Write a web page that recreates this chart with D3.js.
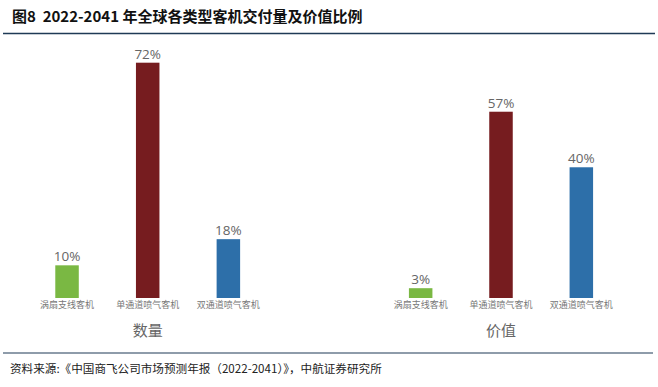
<!DOCTYPE html>
<html>
<head>
<meta charset="utf-8">
<script src="https://cdn.jsdelivr.net/npm/d3@7"></script>
<style>
  body { margin: 0; background: #fff; }
  svg { display: block; }
</style>
</head>
<body>
<div id="chart"></div>
<script>
// chart data
const categories = ["涡扇支线客机", "单通道喷气客机", "双通道喷气客机"];
const countShare = [10, 72, 18];   // 数量
const valueShare = [3, 57, 40];    // 价值
const panelTitles = ["数量", "价值"];
const barColors = ["#7ab843", "#761c1f", "#2d6fa9"];

const width = 658;
const height = 387;

const svg = d3.select("#chart").append("svg")
    .attr("width", width)
    .attr("height", height);

// title
svg.append("text")
    .attr("x", 12)
    .attr("y", 22)
    .style("white-space", "pre")
    .attr("font-family", "'Noto Sans CJK SC', sans-serif")
    .attr("font-weight", "bold")
    .attr("font-size", 15)
    .attr("fill", "#111")
    .text("图8  2022-2041 年全球各类型客机交付量及价值比例");

svg.append("line")
    .attr("x1", 3).attr("x2", 655)
    .attr("y1", 33.5).attr("y2", 33.5)
    .attr("stroke", "#1f3a56")
    .attr("stroke-width", 1.5);

// shared value scale for both panels
const y = d3.scaleLinear()
    .domain([0, 72])
    .range([298, 62.7]);

const barWidth = 23.5;

const panels = [
    { title: panelTitles[0], values: countShare, range: [26.7, 268.7] },
    { title: panelTitles[1], values: valueShare, range: [380.5, 621.5] }
];

panels.forEach(p => {
    const x = d3.scalePoint()
        .domain(categories)
        .range(p.range)
        .padding(0.5);

    const g = svg.append("g");
    const rows = categories.map((c, i) => ({ cat: c, v: p.values[i], color: barColors[i] }));

    g.selectAll("rect")
        .data(rows)
        .enter()
        .append("rect")
        .attr("x", d => x(d.cat) - barWidth / 2)
        .attr("y", d => y(d.v))
        .attr("width", barWidth)
        .attr("height", d => y(0) - y(d.v))
        .attr("fill", d => d.color);

    // value labels
    g.selectAll("text.val")
        .data(rows)
        .enter()
        .append("text")
        .attr("class", "val")
        .attr("x", d => x(d.cat))
        .attr("y", d => y(d.v) - 4)
        .attr("text-anchor", "middle")
        .attr("font-family", "'Open Sans', sans-serif")
        .attr("font-size", 13.5)
        .attr("fill", "#666")
        .text(d => d.v + "%");

    // category labels
    g.selectAll("text.cat")
        .data(rows)
        .enter()
        .append("text")
        .attr("class", "cat")
        .attr("x", d => x(d.cat))
        .attr("y", 308)
        .attr("text-anchor", "middle")
        .attr("font-family", "'Noto Sans CJK SC', sans-serif")
        .attr("font-size", 9)
        .attr("fill", "#777")
        .text(d => d.cat);

    g.append("text")
        .attr("x", (p.range[0] + p.range[1]) / 2)
        .attr("y", 336)
        .attr("text-anchor", "middle")
        .attr("font-family", "'Noto Sans CJK SC', sans-serif")
        .attr("font-size", 15)
        .attr("fill", "#666")
        .text(p.title);
});

// source
svg.append("line")
    .attr("x1", 3).attr("x2", 653)
    .attr("y1", 353).attr("y2", 353)
    .attr("stroke", "#1f3a56")
    .attr("stroke-width", 1.2);

svg.append("text")
    .attr("x", 10)
    .attr("y", 373)
    .attr("font-family", "'Noto Sans CJK SC', serif")
    .attr("font-size", 11.6)
    .attr("fill", "#222")
    .text("资料来源:《中国商飞公司市场预测年报（2022-2041）》，中航证券研究所");
</script>
</body>
</html>
